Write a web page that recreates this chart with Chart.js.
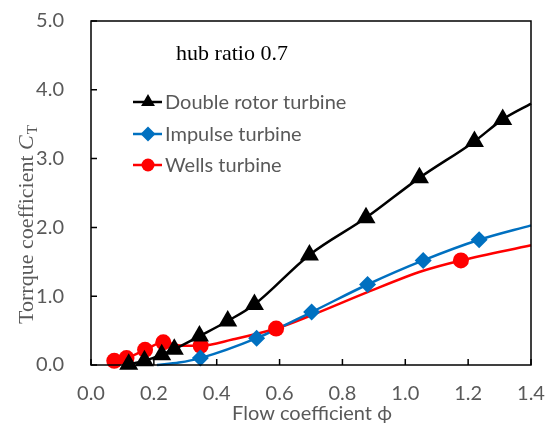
<!DOCTYPE html>
<html>
<head>
<meta charset="utf-8">
<script src="https://cdn.jsdelivr.net/npm/chart.js@4"></script>
<style>
  html, body { margin:0; padding:0; background:#fff; }
  #wrap { width:550px; height:430px; }
</style>
</head>
<body>
<div id="wrap"><canvas id="ct"></canvas></div>
<script>
// Torque coefficient vs flow coefficient, hub ratio 0.7
const xTicks = [0.0, 0.2, 0.4, 0.6, 0.8, 1.0, 1.2, 1.4];
const yTicks = [0.0, 1.0, 2.0, 3.0, 4.0, 5.0];

// measured points
const phiDR = [0.12, 0.17, 0.225, 0.265, 0.345, 0.435, 0.52, 0.695, 0.875, 1.045, 1.22, 1.31];
const ctDR  = [0.01, 0.06, 0.15, 0.23, 0.42, 0.64, 0.88, 1.60, 2.14, 2.72, 3.25, 3.57];
const phiIT = [0.348, 0.527, 0.702, 0.880, 1.057, 1.235];
const ctIT  = [0.10, 0.39, 0.77, 1.17, 1.52, 1.82];
const phiWT = [0.074, 0.113, 0.172, 0.230, 0.349, 0.589, 1.177];
const ctWT  = [0.06, 0.10, 0.22, 0.33, 0.28, 0.53, 1.52];

// fitted curves
const fitPhiDR = [0.12, 0.17, 0.225, 0.265, 0.345, 0.435, 0.52, 0.695, 0.875, 1.045, 1.22, 1.31, 1.40];
const fitCtDR  = [0.01, 0.06, 0.15, 0.23, 0.42, 0.64, 0.88, 1.60, 2.14, 2.72, 3.25, 3.57, 3.80];
const fitPhiIT = [0.21, 0.28, 0.348, 0.527, 0.702, 0.880, 1.057, 1.235, 1.40];
const fitCtIT  = [0.00, 0.035, 0.10, 0.39, 0.77, 1.17, 1.52, 1.82, 2.03];
const fitPhiWT = [0.074, 0.113, 0.172, 0.230, 0.290, 0.349, 0.450, 0.589, 0.705, 0.880, 1.057, 1.177, 1.40];
const fitCtWT  = [0.06, 0.10, 0.22, 0.33, 0.28, 0.28, 0.37, 0.53, 0.73, 1.06, 1.37, 1.52, 1.74];

const seriesNames = ['Double rotor turbine', 'Impulse turbine', 'Wells turbine'];
const seriesColors = ['#000000', '#0070C0', '#FF0000'];
const seriesMarkers = ['triangle', 'rectRot', 'circle'];
const markerSize = [11, 8.5, 8];
const legendMarkerSize = [8, 7.5, 6.5];

const GREY = '#595959';
const SANS = 'Lato, "Open Sans", sans-serif';
const SERIF = '"Liberation Serif", "DejaVu Serif", serif';

const pts = (xs, ys) => xs.map((x, i) => ({ x, y: ys[i] }));

function curve(xs, ys, i){
  return {
    data: pts(xs, ys), showLine: true, pointRadius: 0, borderColor: seriesColors[i],
    borderWidth: 2.5, cubicInterpolationMode: 'monotone', clip: false, order: 2
  };
}
function marks(xs, ys, i){
  return {
    data: pts(xs, ys), showLine: false, pointStyle: seriesMarkers[i], pointRadius: markerSize[i],
    backgroundColor: seriesColors[i], borderColor: seriesColors[i], borderWidth: 0, clip: false, order: 1
  };
}

// frame, inward ticks, titles, annotation and legend
const decor = {
  id: 'decor',
  afterDraw(chart){
    const { ctx, chartArea: a, scales: { x, y } } = chart;
    ctx.save();
    ctx.strokeStyle = '#000';
    ctx.lineWidth = 1.5;
    ctx.strokeRect(a.left, a.top, a.right - a.left, a.bottom - a.top);
    ctx.beginPath();
    xTicks.forEach(v => { const px = x.getPixelForValue(v); ctx.moveTo(px, a.bottom); ctx.lineTo(px, a.bottom - 6); });
    yTicks.forEach(v => { const py = y.getPixelForValue(v); ctx.moveTo(a.left, py); ctx.lineTo(a.left + 6, py); });
    ctx.stroke();

    // annotation
    ctx.fillStyle = '#000';
    ctx.font = '22px ' + SERIF;
    ctx.textAlign = 'center';
    ctx.textBaseline = 'middle';
    ctx.fillText('hub ratio 0.7', 232, 54);

    // x title
    ctx.fillStyle = GREY;
    ctx.font = '20px ' + SANS;
    ctx.fillText('Flow coefficient \u03D5', 312, 414);

    // y title with subscript
    ctx.save();
    ctx.translate(25, 225);
    ctx.rotate(-Math.PI / 2);
    const t1 = 'Torrque coefficient ';
    ctx.font = '22px ' + SERIF;
    const w1 = ctx.measureText(t1).width;
    ctx.font = 'italic 22px ' + SERIF;
    const w2 = ctx.measureText('C').width;
    ctx.font = '15px ' + SERIF;
    const w3 = ctx.measureText('T').width;
    let sx = -(w1 + w2 + w3) / 2;
    ctx.textAlign = 'left';
    ctx.textBaseline = 'alphabetic';
    ctx.font = '22px ' + SERIF;
    ctx.fillText(t1, sx, 8); sx += w1;
    ctx.font = 'italic 22px ' + SERIF;
    ctx.fillText('C', sx, 8); sx += w2 + 1;
    ctx.font = '15px ' + SERIF;
    ctx.fillText('T', sx, 12);
    ctx.restore();

    // legend
    const rows = [102, 134, 165];
    ctx.textAlign = 'left';
    ctx.textBaseline = 'middle';
    ctx.font = '20px ' + SANS;
    rows.forEach((ry, i) => {
      ctx.strokeStyle = seriesColors[i];
      ctx.lineWidth = 2.5;
      ctx.beginPath(); ctx.moveTo(133, ry); ctx.lineTo(162, ry); ctx.stroke();
      ctx.fillStyle = seriesColors[i];
      Chart.helpers.drawPoint(ctx, { pointStyle: seriesMarkers[i], radius: legendMarkerSize[i], borderWidth: 0 }, 148, ry);
      ctx.fillStyle = GREY;
      ctx.fillText(seriesNames[i], 165, ry + 1);
    });
    ctx.restore();
  }
};

new Chart(document.getElementById('ct'), {
  type: 'scatter',
  data: {
    datasets: [
      curve(fitPhiDR, fitCtDR, 0), curve(fitPhiIT, fitCtIT, 1), curve(fitPhiWT, fitCtWT, 2),
      marks(phiDR, ctDR, 0), marks(phiIT, ctIT, 1), marks(phiWT, ctWT, 2)
    ]
  },
  options: {
    responsive: true,
    maintainAspectRatio: false,
    animation: false,
    layout: { padding: { top: 21, right: 19, left: 0, bottom: 0 } },
    plugins: { legend: { display: false }, tooltip: { enabled: false } },
    scales: {
      x: {
        min: 0, max: 1.4,
        afterBuildTicks: s => { s.ticks = xTicks.map(v => ({ value: v })); },
        afterFit: s => { s.height = 65; s.paddingLeft = 0; s.paddingRight = 0; },
        grid: { display: false, drawTicks: false },
        border: { display: false },
        ticks: { padding: 17, color: GREY, font: { family: SANS, size: 20 }, maxRotation: 0,
                 callback: v => Number(v).toFixed(1) }
      },
      y: {
        min: 0, max: 5,
        afterBuildTicks: s => { s.ticks = yTicks.map(v => ({ value: v })); },
        afterFit: s => { s.width = 91; s.paddingTop = 0; s.paddingBottom = 0; },
        grid: { display: false, drawTicks: false },
        border: { display: false },
        ticks: { padding: 27, color: GREY, font: { family: SANS, size: 20 },
                 callback: v => Number(v).toFixed(1) }
      }
    }
  },
  plugins: [decor]
});
</script>
</body>
</html>
